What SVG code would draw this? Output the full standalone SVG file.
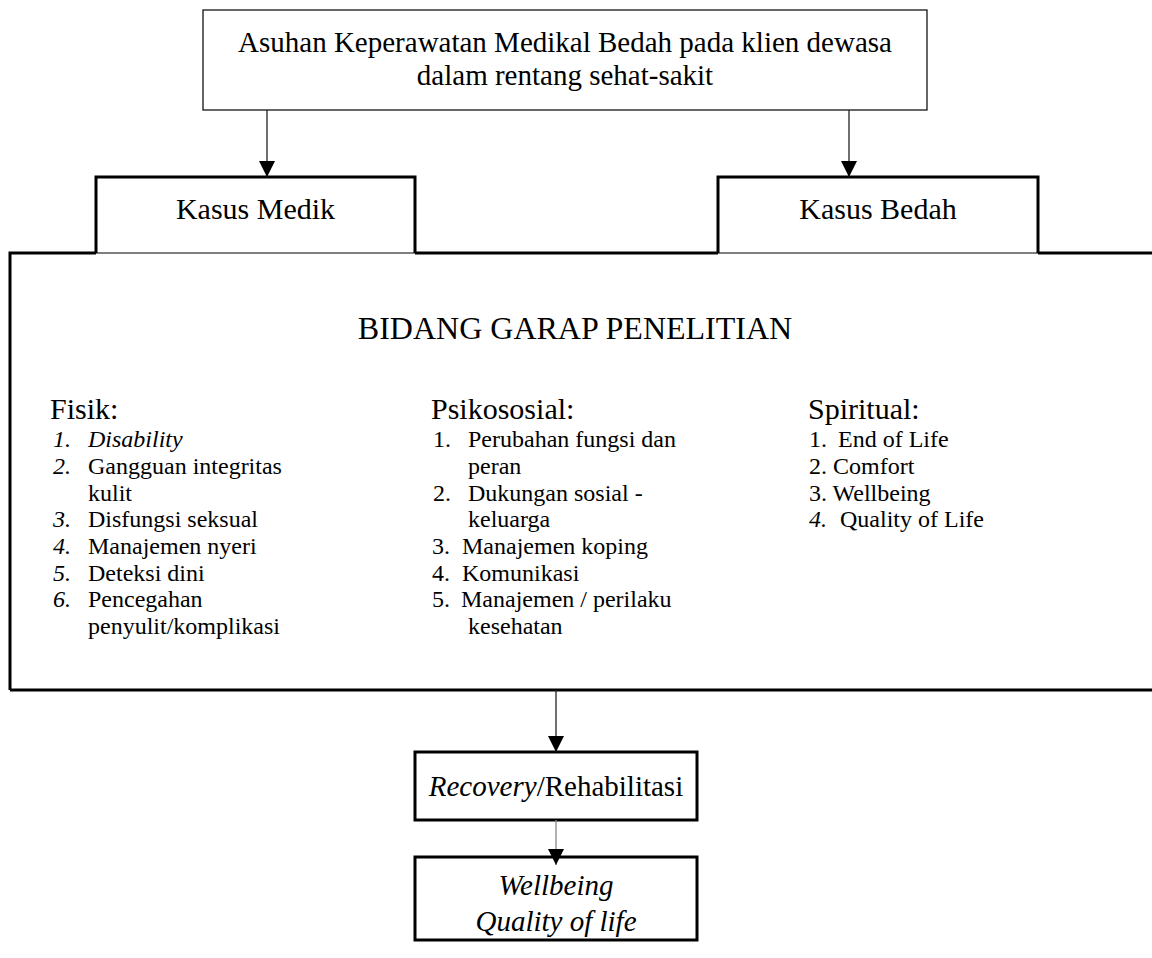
<svg xmlns="http://www.w3.org/2000/svg" width="1152" height="958" viewBox="0 0 1152 958">
<defs>
<style>
text{font-family:"Liberation Serif","Times New Roman",serif;fill:#000}
.h{font-size:29px}
.hd{font-size:30px}
.li{font-size:24px}
.i{font-style:italic}
.thick{fill:none;stroke:#000;stroke-width:3}
.thin{fill:none;stroke:#000;stroke-width:1.2}
.conn{stroke:#222;stroke-width:1.3;fill:none}
</style>
<marker id="ah2" markerUnits="userSpaceOnUse" markerWidth="16" markerHeight="17" refX="16" refY="8" orient="auto" viewBox="0 0 16 16">
<path d="M0,0 L16,8 L0,16 Z" fill="#000"/>
</marker>
</defs>
<rect width="1152" height="958" fill="#fff"/>

<g id="top">
<rect x="203" y="10" width="724" height="100" class="thin"/>
<text class="h" x="565" y="52" text-anchor="middle">Asuhan Keperawatan Medikal Bedah pada klien dewasa</text>
<text class="h" x="565" y="85" text-anchor="middle">dalam rentang sehat-sakit</text>
</g>

<g id="main">
<path d="M10,690 L10,253 L96,253 M415,253 L718,253 M1038,253 L1160,253 M10,690 L1160,690" class="thick"/>
<text x="575" y="339" text-anchor="middle" style="font-size:32px">BIDANG GARAP PENELITIAN</text>
<g id="fisik">
<text class="hd" x="50" y="419">Fisik:</text>
<text class="li" x="53" y="447"><tspan class="i">1.</tspan><tspan x="88" class="i">Disability</tspan></text>
<text class="li" x="53" y="474"><tspan class="i">2.</tspan><tspan x="88">Gangguan integritas</tspan></text>
<text class="li" x="88" y="501">kulit</text>
<text class="li" x="53" y="527"><tspan class="i">3.</tspan><tspan x="88">Disfungsi seksual</tspan></text>
<text class="li" x="53" y="554"><tspan class="i">4.</tspan><tspan x="88">Manajemen nyeri</tspan></text>
<text class="li" x="53" y="581"><tspan class="i">5.</tspan><tspan x="88">Deteksi dini</tspan></text>
<text class="li" x="53" y="607"><tspan class="i">6.</tspan><tspan x="88">Pencegahan</tspan></text>
<text class="li" x="88" y="634">penyulit/komplikasi</text>
</g>
<g id="psiko">
<text class="hd" x="431" y="419">Psikososial:</text>
<text class="li" x="433" y="447">1.<tspan x="468">Perubahan fungsi dan</tspan></text>
<text class="li" x="468" y="474">peran</text>
<text class="li" x="433" y="501">2.<tspan x="468">Dukungan sosial -</tspan></text>
<text class="li" x="468" y="527">keluarga</text>
<text class="li" x="432" y="554">3.<tspan x="462">Manajemen koping</tspan></text>
<text class="li" x="432" y="581">4.<tspan x="462">Komunikasi</tspan></text>
<text class="li" x="432" y="607">5.<tspan x="461">Manajemen / perilaku</tspan></text>
<text class="li" x="468" y="634">kesehatan</text>
</g>
<g id="spiritual">
<text class="hd" x="808" y="419">Spiritual:</text>
<text class="li" x="809" y="447">1.<tspan x="838">End of Life</tspan></text>
<text class="li" x="809" y="474">2. Comfort</text>
<text class="li" x="809" y="501">3. Wellbeing</text>
<text class="li" x="809" y="527"><tspan class="i">4.</tspan><tspan x="840">Quality of Life</tspan></text>
</g>
</g>

<g id="medik">
<path d="M96,253 L96,177 L415,177 L415,253" class="thick"/>
<line x1="96" y1="253" x2="415" y2="253" stroke="#000" stroke-width="1"/>
<text class="hd" x="255.5" y="219" text-anchor="middle">Kasus Medik</text>
</g>

<g id="bedah">
<path d="M718,253 L718,177 L1038,177 L1038,253" class="thick"/>
<line x1="718" y1="253" x2="1038" y2="253" stroke="#000" stroke-width="1"/>
<text class="hd" x="878" y="219" text-anchor="middle">Kasus Bedah</text>
</g>

<g id="recovery">
<rect x="415" y="752" width="282" height="68" class="thick" stroke-width="2.5"/>
<text class="h" x="556" y="796" text-anchor="middle"><tspan class="i">Recovery</tspan>/Rehabilitasi</text>
</g>

<g id="wellbeing">
<rect x="415" y="857" width="282" height="83" class="thick" stroke-width="2.5"/>
<text class="h i" x="556" y="895" text-anchor="middle">Wellbeing</text>
<text class="h i" x="556" y="931" text-anchor="middle">Quality of life</text>
</g>

<g id="connectors">
<line x1="267" y1="110" x2="267" y2="177" class="conn" marker-end="url(#ah2)"/>
<line x1="849" y1="110" x2="849" y2="177" class="conn" marker-end="url(#ah2)"/>
<line x1="556" y1="690" x2="556" y2="752" class="conn" marker-end="url(#ah2)"/>
<line x1="556" y1="820" x2="556" y2="865" stroke="#888" stroke-width="1.3" marker-end="url(#ah2)"/>
</g>
</svg>
